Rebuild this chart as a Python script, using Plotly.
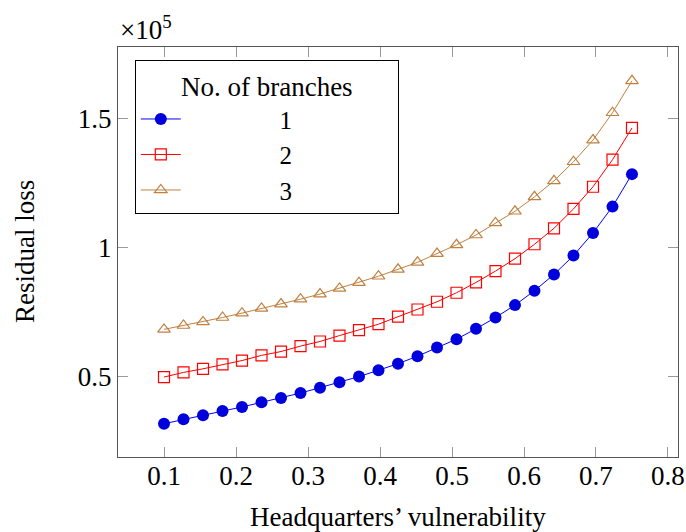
import plotly.graph_objects as go

x_vals = [round(0.1 + i * 0.65 / 24, 5) for i in range(25)]

loss_1 = [0.317, 0.334, 0.350, 0.366, 0.382, 0.400, 0.417, 0.436, 0.457, 0.478,
          0.500, 0.5245, 0.550, 0.579, 0.613, 0.645, 0.685, 0.729, 0.777, 0.833,
          0.896, 0.969, 1.057, 1.159, 1.285]
loss_2 = [0.498, 0.516, 0.530, 0.547, 0.562, 0.582, 0.597, 0.618, 0.636, 0.659,
          0.680, 0.703, 0.732, 0.760, 0.790, 0.825, 0.865, 0.909, 0.957, 1.013,
          1.075, 1.150, 1.236, 1.341, 1.464]
loss_3 = [0.683, 0.698, 0.712, 0.729, 0.746, 0.764, 0.781, 0.800, 0.820, 0.842,
          0.864, 0.889, 0.916, 0.943, 0.977, 1.011, 1.049, 1.096, 1.141, 1.197,
          1.259, 1.333, 1.417, 1.523, 1.647]
series_names = ["1", "2", "3"]
x_ticks = [0.1, 0.2, 0.3, 0.4, 0.5, 0.6, 0.7, 0.8]
y_ticks = [50000, 100000, 150000]
y_tick_text = ["0.5", "1", "1.5"]

FONT = "Liberation Serif"
FS = 27
fig = go.Figure()
styles = [
    dict(color="#0000ff", marker=dict(symbol="circle", size=12, color="#0000dd", line=dict(width=0))),
    dict(color="#ff0000", marker=dict(symbol="square-open", size=11, color="#ff0000", line=dict(width=1.2))),
    dict(color="#bf8040", marker=dict(symbol="triangle-up-open", size=11, color="#bf8040", line=dict(width=1.2))),
]
for name, ys, st in zip(series_names, [loss_1, loss_2, loss_3], styles):
    fig.add_trace(go.Scatter(
        x=x_vals, y=[v * 1e5 for v in ys], mode="lines+markers",
        name="               " + name + "                ",
        line=dict(color=st["color"], width=1),
        marker=st["marker"],
    ))

axis_common = dict(
    showline=True, mirror="ticks", linecolor="#555555", linewidth=1.3,
    ticks="inside", ticklen=10, tickcolor="#999999", tickwidth=1,
    showgrid=False, zeroline=False, automargin=False,
    tickfont=dict(family=FONT, size=FS, color="black"),
)
fig.update_xaxes(range=[0.0361, 0.8139], tickvals=x_ticks, ticktext=[str(t) for t in x_ticks],
                 ticklabelstandoff=-6, **axis_common)
fig.update_yaxes(range=[18800, 177800], tickvals=y_ticks, ticktext=y_tick_text,
                 **axis_common)

fig.add_annotation(text="Headquarters’ vulnerability", xref="paper", yref="paper", x=0.5, y=0,
                   xanchor="center", yanchor="middle", yshift=-60, showarrow=False,
                   font=dict(family=FONT, size=FS, color="black"))
fig.add_annotation(text="Residual loss", xref="paper", yref="paper", x=0, y=0.5,
                   xanchor="center", yanchor="middle", xshift=-93, textangle=-90, showarrow=False,
                   font=dict(family=FONT, size=FS, color="black"))
fig.add_annotation(text="×10<sup>5</sup>", xref="paper", yref="paper", x=0.0, y=1.0,
                   xanchor="left", yanchor="middle", showarrow=False, yshift=19,
                   font=dict(family=FONT, size=FS, color="black"))

fig.update_layout(
    width=686, height=532,
    margin=dict(l=118, r=8, t=47, b=75),
    paper_bgcolor="white", plot_bgcolor="white",
    font=dict(family=FONT, size=FS, color="black"),
    legend=dict(x=0.03, y=0.968, xanchor="left", yanchor="top",
                bgcolor="white", bordercolor="black", borderwidth=1,
                title=dict(text="No. of branches", side="top center", font=dict(family=FONT, size=27)),
                font=dict(family=FONT, size=25), tracegroupgap=0, itemwidth=40),
    showlegend=True,
)
fig.write_html("out.html", config={"displayModeBar": False},
               post_script="document.body.style.margin='0px';document.body.style.overflow='hidden';")
